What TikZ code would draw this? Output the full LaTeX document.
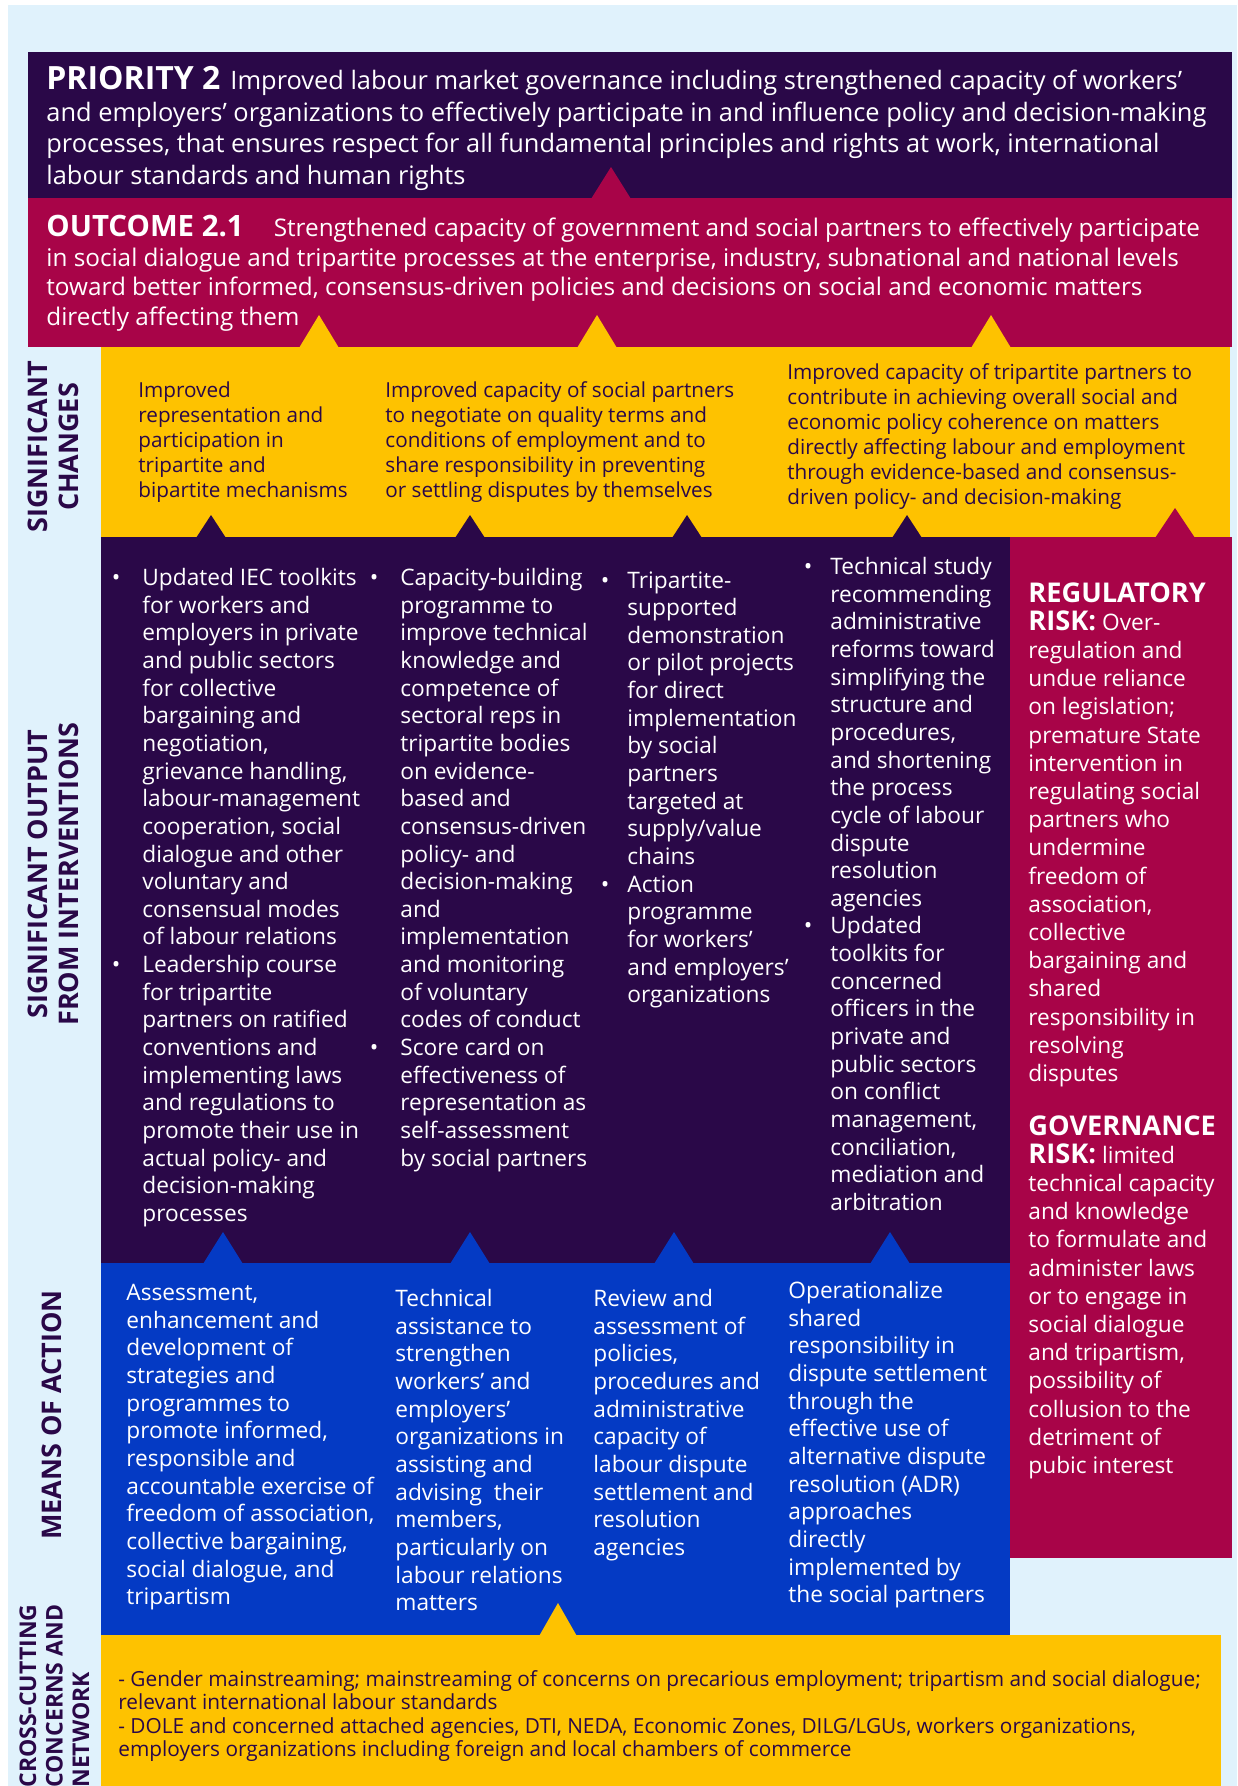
\documentclass[tikz,border=0pt]{standalone}
\usepackage{fontspec}
\setmainfont{Open Sans}
\usetikzlibrary{positioning}

\definecolor{bgblue}{RGB}{224,242,252}
\definecolor{ilopurple}{RGB}{42,8,72}
\definecolor{ilored}{RGB}{168,4,72}
\definecolor{iloyellow}{RGB}{254,194,0}
\definecolor{iloblue}{RGB}{4,58,196}

\newcommand{\itm}[1][9pt]{\leavevmode\llap{\textbullet\hspace{#1}}}
\newcommand{\bighead}[2][16]{{\fontsize{#1}{#1}\selectfont\bfseries #2}}
\newcommand{\riskhead}[1]{{\fontsize{13.6}{13.6}\selectfont\bfseries #1}}

\tikzset{
	every node/.style={
		inner sep=0pt,
		anchor=north west,
		align=left
	},
	headtext/.style={
		text=white,
		font=\fontsize{12.7}{15.8}\selectfont
	},
	outcometext/.style={
		text=white,
		font=\fontsize{12.15}{14.8}\selectfont
	},
	changetext/.style={
		text=ilopurple,
		font=\fontsize{10.35}{12.5}\selectfont
	},
	outputtext/.style={
		text=white,
		font=\fontsize{11.35}{13.82}\selectfont
	},
	risktext/.style={
		outputtext,
		font=\fontsize{11.35}{14.1}\selectfont
	},
	crosstext/.style={
		text=ilopurple,
		font=\fontsize{10.4}{11.7}\selectfont
	},
	sidelabel/.style={
		rotate=90,
		anchor=center,
		align=center,
		text=ilopurple,
		font=\fontsize{13.5}{15.5}\selectfont\bfseries
	},
	pointer/.style={
		fill=#1
	}
}

\begin{document}
\begin{tikzpicture}[x=0.5pt,y=-0.5pt]
	\useasboundingbox (0,0) rectangle (1237,1786);
	\fill[white] (0,0) rectangle (1237,1786);
	\fill[bgblue] (8,5) rectangle (1237,1786);
	
	% bands
	\fill[ilopurple] (28,52) rectangle (1232,198);
	\fill[ilored] (28,198) rectangle (1232,347);
	\fill[iloyellow] (101,347) rectangle (1230,537);
	\fill[ilopurple] (101,537) rectangle (1010,1263);
	\fill[ilored] (1010,537) rectangle (1232,1558);
	\fill[iloblue] (101,1263) rectangle (1010,1637);
	\fill[iloyellow] (101,1635) rectangle (1221,1786);
	
	% pointers
	\fill[pointer=ilored] (591,199) -- (611,167) -- (631,199) -- cycle;
	\foreach \x in {319,597,991}
		\fill[pointer=iloyellow] (\x-20,348) -- (\x,315) -- (\x+20,348) -- cycle;
	\foreach \x in {211,470,687,907}
		\fill[pointer=ilopurple] (\x-15,538) -- (\x,515) -- (\x+15,538) -- cycle;
	\fill[pointer=ilored] (1155,538) -- (1175,508) -- (1195,538) -- cycle;
	\foreach \x in {223,470,674,890}
		\fill[pointer=iloblue] (\x-20,1264) -- (\x,1232) -- (\x+20,1264) -- cycle;
	\fill[pointer=iloyellow] (538,1638) -- (558,1603) -- (578,1638) -- cycle;
	
	% side labels
	\node[sidelabel] (lblchanges) at (53,447) {SIGNIFICANT\\CHANGES};
	\node[sidelabel] (lbloutput) at (53,874) {SIGNIFICANT OUTPUT\\FROM INTERVENTIONS};
	\node[sidelabel] (lblmeans) at (52,1415) {MEANS OF ACTION};
	\node[sidelabel, anchor=north west, align=left, font=\fontsize{11.5}{13.25}\selectfont\bfseries] (lblcross) at (19,1788) {CROSS-CUTTING\\CONCERNS AND\\NETWORK};
	
	% priority and outcome
	\node[headtext] (priority) at (46,66) {\bighead{PRIORITY 2}\hspace{5pt}Improved labour market governance including strengthened capacity of workers’\\and employers’ organizations to effectively participate in and influence policy and decision-making\\processes, that ensures respect for all fundamental principles and rights at work, international\\labour standards and human rights};
	\node[outcometext] (outcome) at (46,215) {\bighead[14.7]{OUTCOME 2.1}\hspace{15pt}Strengthened capacity of government and social partners to effectively participate\\in social dialogue and tripartite processes at the enterprise, industry, subnational and national levels\\toward better informed, consensus-driven policies and decisions on social and economic matters\\directly affecting them};
	
	% significant changes
	\node[changetext] (change1) at (138,381) {Improved\\representation and\\participation in\\tripartite and\\bipartite mechanisms};
	\node[changetext] (change2) at (385,381) {Improved capacity of social partners\\to negotiate on quality terms and\\conditions of employment and to\\share responsibility in preventing\\or settling disputes by themselves};
	\node[changetext] (change3) at (787,363) {Improved capacity of tripartite partners to\\contribute in achieving overall social and\\economic policy coherence on matters\\directly affecting labour and employment\\through evidence-based and consensus-\\driven policy- and decision-making};
	
	% outputs
	\node[outputtext] (output1) at (142,568) {\itm[11pt]Updated IEC toolkits\\for workers and\\employers in private\\and public sectors\\for collective\\bargaining and\\negotiation,\\grievance handling,\\labour-management\\cooperation, social\\dialogue and other\\voluntary and\\consensual modes\\of labour relations\\\itm[11pt]Leadership course\\for tripartite\\partners on ratified\\conventions and\\implementing laws\\and regulations to\\promote their use in\\actual policy- and\\decision-making\\processes};
	\node[outputtext] (output2) at (400,568) {\itm[11pt]Capacity-building\\programme to\\improve technical\\knowledge and\\competence of\\sectoral reps in\\tripartite bodies\\on evidence-\\based and\\consensus-driven\\policy- and\\decision-making\\and\\implementation\\and monitoring\\of voluntary\\codes of conduct\\\itm[11pt]Score card on\\effectiveness of\\representation as\\self-assessment\\by social partners};
	\node[outputtext] (output3) at (627,571) {\itm Tripartite-\\supported\\demonstration\\or pilot projects\\for direct\\implementation\\by social\\partners\\targeted at\\supply/value\\chains\\\itm Action\\programme\\for workers’\\and employers’\\organizations};
	\node[outputtext] (output4) at (830,557) {\itm Technical study\\recommending\\administrative\\reforms toward\\simplifying the\\structure and\\procedures,\\and shortening\\the process\\cycle of labour\\dispute\\resolution\\agencies\\\itm Updated\\toolkits for\\concerned\\officers in the\\private and\\public sectors\\on conflict\\management,\\conciliation,\\mediation and\\arbitration};
	
	% risks
	\node[risktext] (regrisk) at (1028,582) {\riskhead{REGULATORY}\\\riskhead{RISK:} Over-\\regulation and\\undue reliance\\on legislation;\\premature State\\intervention in\\regulating social\\partners who\\undermine\\freedom of\\association,\\collective\\bargaining and\\shared\\responsibility in\\resolving\\disputes};
	\node[risktext] (govrisk) at (1028,1115) {\riskhead{GOVERNANCE}\\\riskhead{RISK:} limited\\technical capacity\\and knowledge\\to formulate and\\administer laws\\or to engage in\\social dialogue\\and tripartism,\\possibility of\\collusion to the\\detriment of\\pubic interest};
	
	% means of action
	\node[outputtext] (means1) at (126,1284) {Assessment,\\enhancement and\\development of\\strategies and\\programmes to\\promote informed,\\responsible and\\accountable exercise of\\freedom of association,\\collective bargaining,\\social dialogue, and\\tripartism};
	\node[outputtext] (means2) at (395,1289) {Technical\\assistance to\\strengthen\\workers’ and\\employers’\\organizations in\\assisting and\\advising\ \ their\\members,\\particularly on\\labour relations\\matters};
	\node[outputtext] (means3) at (593,1289) {Review and\\assessment of\\policies,\\procedures and\\administrative\\capacity of\\labour dispute\\settlement and\\resolution\\agencies};
	\node[outputtext] (means4) at (788,1281) {Operationalize\\shared\\responsibility in\\dispute settlement\\through the\\effective use of\\alternative dispute\\resolution (ADR)\\approaches\\directly\\implemented by\\the social partners};
	
	% cross-cutting
	\node[crosstext] (cross) at (118,1670) {- Gender mainstreaming; mainstreaming of concerns on precarious employment; tripartism and social dialogue;\\relevant international labour standards\\- DOLE and concerned attached agencies, DTI, NEDA, Economic Zones, DILG/LGUs, workers organizations,\\employers organizations including foreign and local chambers of commerce};
\end{tikzpicture}
\end{document}
